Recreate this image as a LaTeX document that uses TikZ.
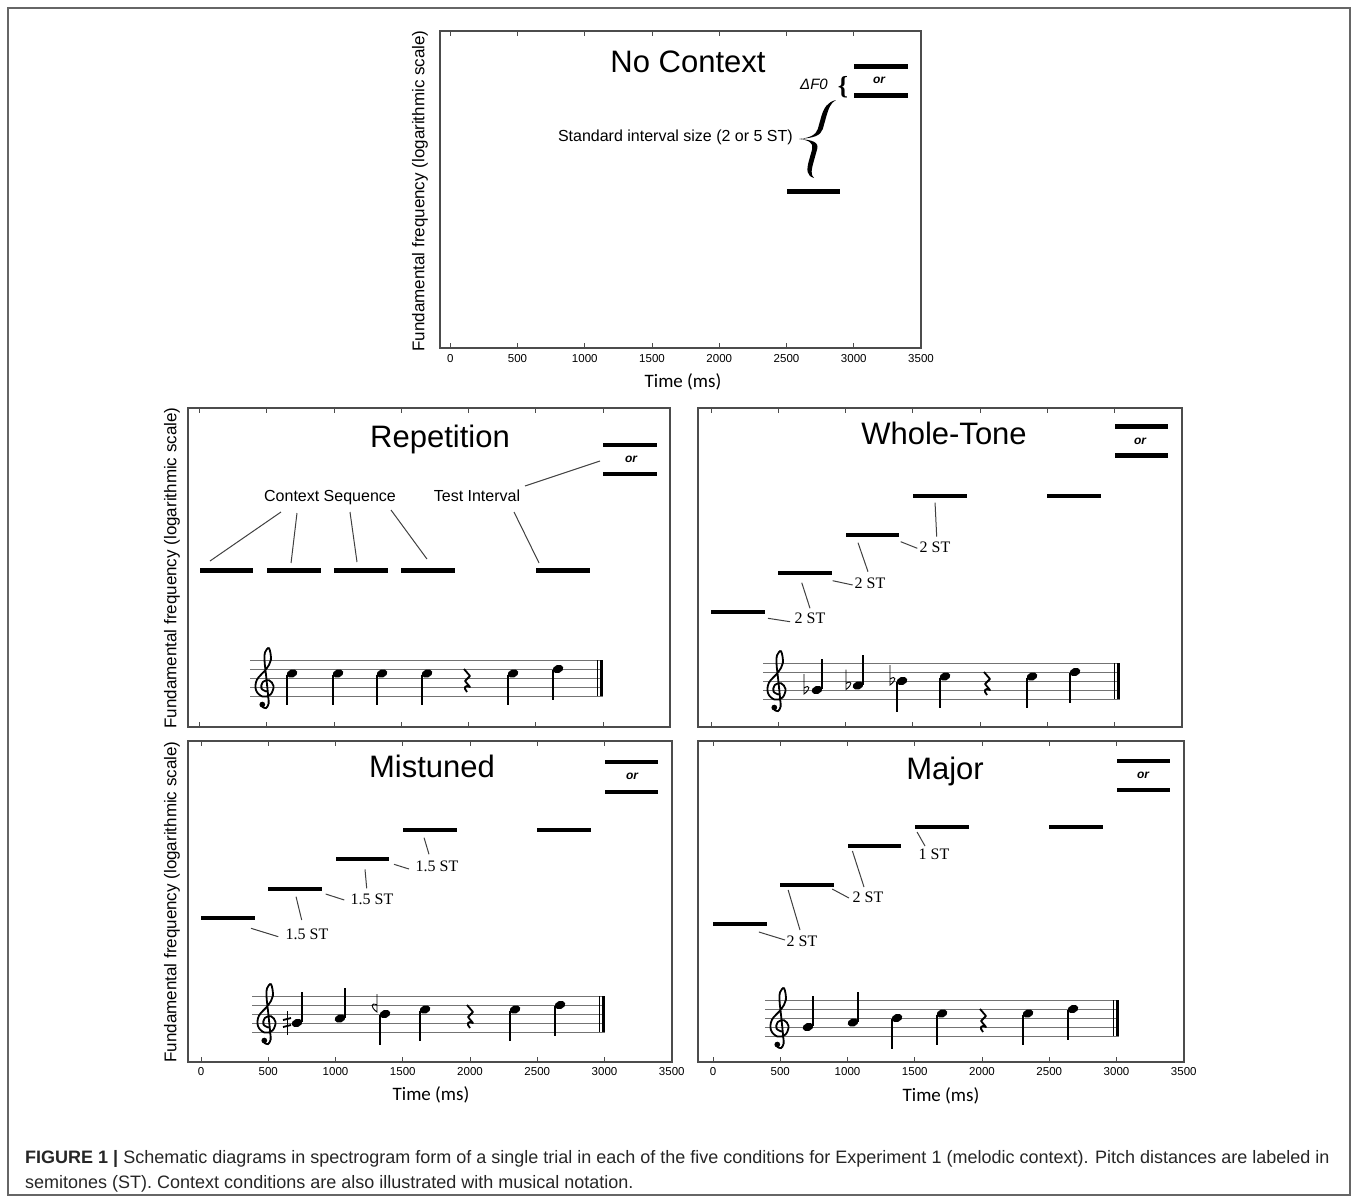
\documentclass[tikz,border=0pt]{standalone}
\usepackage{fontspec}
\setmainfont{Liberation Serif}
\setsansfont{Liberation Sans}
\newfontfamily\timefont{Carlito}
\usetikzlibrary{positioning}

% five-line staff with a final double bar: x1, x2, top line
\newcommand{\staff}[3]{%
  \foreach \k in {0,...,4}
    \draw[staffline] (#1,#3+\k*9) -- (#2,#3+\k*9);
  \draw[line width=0.9pt] (#2-6,#3) -- (#2-6,#3+36);
  \draw[line width=3pt] (#2-1.5,#3) -- (#2-1.5,#3+36);
}
% quarter notes: x, head y
\newcommand{\noteup}[2]{%
  \fill[rotate around={20:(#1,#2)}] (#1,#2) ellipse (5.5 and 4);
  \draw[stem] (#1+5,#2-1) -- (#1+5,#2-31);
}
\newcommand{\notedn}[2]{%
  \fill[rotate around={20:(#1,#2)}] (#1,#2) ellipse (5.5 and 4);
  \draw[stem] (#1-5,#2+1) -- (#1-5,#2+31);
}
% treble clef: x, G line
\newcommand{\gclef}[2]{%
  \begin{scope}[shift={(#1,#2)}, scale=9]
    \draw[line width=1.8pt, line cap=round] plot[smooth, tension=0.6] coordinates {
      (0.15,0.5) (-0.4,0.15) (-0.25,-0.55) (0.45,-0.75) (0.95,-0.1) (0.6,0.85)
      (-0.3,1.05) (-1.0,0.35) (-0.9,-0.8) (0.1,-1.95) (0.65,-3.0) (0.45,-4.3)
      (0.0,-3.85) (-0.05,-2.9) (0.15,-1.0) (0.35,1.0) (0.4,1.85) (0.1,2.35) (-0.3,2.2)};
    \fill (-0.3,1.95) circle (0.32);
  \end{scope}
}
% quarter rest: x, middle line
\newcommand{\qrest}[2]{%
  \draw[line width=1.8pt, line join=round] (#1-3,#2-9) -- (#1+3,#2-2) -- (#1-2,#2+3) -- (#1+3,#2+9)
    .. controls (#1-2,#2+6) and (#1-4,#2+10) .. (#1,#2+14);
}
% flat: x, note y
\newcommand{\flatsign}[2]{%
  \draw[line width=0.9pt] (#1,#2-16) -- (#1,#2+4) .. controls (#1+7,#2-1) and (#1+6,#2-6) .. (#1,#2-2);
}

\begin{document}
\begin{tikzpicture}[
    x=1pt, y=-1pt,
    frame/.style={draw=black!60, line width=1.5pt},
    axbox/.style={draw=black!70, line width=1.2pt},
    tick/.style={draw=black!70, line width=0.9pt},
    ticklbl/.style={font=\sffamily\fontsize{11.5}{13}\selectfont, inner sep=0pt},
    ylbl/.style={font=\sffamily\fontsize{17}{20}\selectfont, rotate=90, inner sep=0pt},
    xlbl/.style={font=\timefont\fontsize{19}{22}\selectfont, inner sep=0pt},
    ttl/.style={font=\sffamily\fontsize{31}{36}\selectfont, inner sep=0pt},
    lbl/.style={font=\sffamily\fontsize{16}{19}\selectfont, inner sep=1pt},
    st/.style={font=\rmfamily\fontsize{16}{19}\selectfont, inner sep=1pt},
    orl/.style={font=\sffamily\bfseries\itshape\fontsize{12}{14}\selectfont, inner sep=1pt},
    bar/.style={fill=black, minimum width=53.8pt, minimum height=4.5pt, inner sep=0pt},
    lead/.style={draw=black!75, line width=1pt},
    staffline/.style={draw=black!55, line width=0.8pt},
    stem/.style={line width=1.2pt},
    capt/.style={font=\sffamily\fontsize{18}{21}\selectfont, inner sep=0pt, text=black!85}
  ]
  \useasboundingbox (0,0) rectangle (1358,1199);
  \draw[frame] (8,8) rectangle (1350,1195);

  % No Context
  \draw[axbox] (440,31) rectangle (921,348);
  \foreach \t in {0,500,...,3500} {
    \draw[tick] (450.25+0.1345*\t,31) -- ++(0,5);
    \draw[tick] (450.25+0.1345*\t,348) -- ++(0,-5);
    \node[ticklbl] at (450.25+0.1345*\t,359) {\t};
  }
  \node[ylbl] (ncy) at (420,191) {Fundamental frequency (logarithmic scale)};
  \node[xlbl] (ncx) at (683,382) {Time (ms)};
  \node[ttl, anchor=base] (nct) at (688,73) {No Context};
  \node[bar] (nc1) at (813.4,191.5) {};
  \node[bar] (ncA) at (880.65,66.5) {};
  \node[bar] (ncB) at (880.65,95.5) {};
  \node[orl] (ncor) at (879,80) {or};
  \node[font=\sffamily\itshape\fontsize{15}{18}\selectfont, inner sep=0pt] (df) at (814,84) {ΔF0};
  \node[font=\rmfamily\bfseries\fontsize{26}{28}\selectfont, inner sep=0pt] (dfb) at (843,87) {\{};
  \begin{scope}[shift={(817,139)}, xslant=0.28]
    \fill (8,-39) .. controls (0,-37) and (-2,-31) .. (-2,-22) -- (-2,-10)
      .. controls (-2,-4) and (-8,-1) .. (-18,0)
      .. controls (-5,-0.8) and (3,-3) .. (3,-10) -- (3,-22)
      .. controls (3,-31) and (3.5,-36) .. (8,-39) -- cycle;
    \fill (8,39) .. controls (0,37) and (-2,31) .. (-2,22) -- (-2,10)
      .. controls (-2,4) and (-8,1) .. (-18,0)
      .. controls (-5,0.8) and (3,3) .. (3,10) -- (3,22)
      .. controls (3,31) and (3.5,36) .. (8,39) -- cycle;
  \end{scope}
  \node[lbl, anchor=east] (sit) at (794,137) {Standard interval size (2 or 5 ST)};

  % frames of the four context panels
  \draw[axbox] (188,408) rectangle (670,727);
  \draw[axbox] (698,408) rectangle (1182,727);
  \draw[axbox] (188,741) rectangle (672,1062);
  \draw[axbox] (698,741) rectangle (1184,1062);
  \foreach \xo/\yt/\yb in {199.5/408/727, 711/408/727, 201/741/1062, 713/741/1062}
    \foreach \t in {0,500,...,3500} {
      \draw[tick] (\xo+0.1345*\t,\yt) -- ++(0,5);
      \draw[tick] (\xo+0.1345*\t,\yb) -- ++(0,-5);
    }
  \foreach \xo in {201,713}
    \foreach \t in {0,500,...,3500}
      \node[ticklbl] at (\xo+0.1345*\t,1072) {\t};
  \node[ylbl] (rpy) at (172,568) {Fundamental frequency (logarithmic scale)};
  \node[ylbl] (msy) at (172,902) {Fundamental frequency (logarithmic scale)};
  \node[xlbl] (msx) at (431,1095) {Time (ms)};
  \node[xlbl] (mjx) at (941,1096) {Time (ms)};

  % Repetition
  \node[ttl, anchor=base] (rpt) at (440,447) {Repetition};
  \node[bar] (r1) at (226.4,570.5) {};
  \node[bar] (r2) at (293.65,570.5) {};
  \node[bar] (r3) at (360.9,570.5) {};
  \node[bar] (r4) at (428.15,570.5) {};
  \node[bar] (r5) at (562.65,570.5) {};
  \node[bar] (rA) at (629.9,445) {};
  \node[bar] (rB) at (629.9,474) {};
  \node[orl] (ror) at (631,459) {or};
  \node[lbl, anchor=base] (cs) at (330,501.5) {Context Sequence};
  \node[lbl, anchor=base] (ti) at (477,501.5) {Test Interval};
  \draw[lead] ([shift={(-49,10.5)}]cs.base) -- ([shift={(-16.4,-9.5)}]r1.center);
  \draw[lead] ([shift={(-33,11.5)}]cs.base) -- ([shift={(-2.6,-7.5)}]r2.center);
  \draw[lead] ([shift={(20,10.5)}]cs.base)  -- ([shift={(-3.9,-8.5)}]r3.center);
  \draw[lead] ([shift={(61,8.5)}]cs.base)   -- ([shift={(-1.2,-11.5)}]r4.center);
  \draw[lead] ([shift={(37,10.5)}]ti.base)  -- ([shift={(-23.6,-7.5)}]r5.center);
  \draw[lead] ([shift={(48,-15.5)}]ti.base) -- ([shift={(-31,2)}]ror.center);
  \staff{250}{603}{660}
  \gclef{265}{687}
  \notedn{292}{673.5} \notedn{338}{673.5} \notedn{382}{673.5} \notedn{427}{673.5}
  \qrest{467}{678}
  \notedn{513}{673.5} \notedn{558}{669}

  % Whole-Tone
  \node[ttl, anchor=base] (wtt) at (944,444) {Whole-Tone};
  \node[bar] (w1) at (737.9,612) {};
  \node[bar] (w2) at (805.15,573) {};
  \node[bar] (w3) at (872.4,535) {};
  \node[bar] (w4) at (939.65,496) {};
  \node[bar] (w5) at (1074.15,496) {};
  \node[bar] (wA) at (1141.4,426.7) {};
  \node[bar] (wB) at (1141.4,455.7) {};
  \node[orl] (wor) at (1140,441) {or};
  \node[st] (wl1) at (810,618.5) {2 ST};
  \node[st] (wl2) at (870,583) {2 ST};
  \node[st] (wl3) at (935,547.5) {2 ST};
  \draw[lead] ([shift={(30.1,6.3)}]w1.center)  -- ([shift={(-20,3.2)}]wl1.center);
  \draw[lead] ([shift={(-3.4,9.7)}]w2.center)  -- ([shift={(0,-10.2)}]wl1.center);
  \draw[lead] ([shift={(27.5,7.7)}]w2.center)  -- ([shift={(-17.3,2)}]wl2.center);
  \draw[lead] ([shift={(-14.4,7.7)}]w3.center) -- ([shift={(-2,-11.3)}]wl2.center);
  \draw[lead] ([shift={(28.3,6.7)}]w3.center)  -- ([shift={(-17.7,0.8)}]wl3.center);
  \draw[lead] ([shift={(-4.6,6.7)}]w4.center)  -- ([shift={(1.7,-10.8)}]wl3.center);
  \staff{763}{1120}{663}
  \gclef{777}{690}
  \flatsign{804}{690} \noteup{817}{690}
  \flatsign{846}{685.5} \noteup{858}{685.5}
  \flatsign{890}{681} \notedn{902}{681}
  \notedn{945}{676.5}
  \qrest{987}{681}
  \notedn{1032}{676.5} \notedn{1075}{672}

  % Mistuned
  \node[ttl, anchor=base] (mst) at (432,777) {Mistuned};
  \node[bar] (m1) at (227.9,918) {};
  \node[bar] (m2) at (295.15,889) {};
  \node[bar] (m3) at (362.4,859) {};
  \node[bar] (m4) at (429.65,830) {};
  \node[bar] (m5) at (564.15,830) {};
  \node[bar] (mA) at (631.4,762) {};
  \node[bar] (mB) at (631.4,792) {};
  \node[orl] (mor) at (632,776) {or};
  \node[st] (ml1) at (307,934) {1.5 ST};
  \node[st] (ml2) at (372,899.5) {1.5 ST};
  \node[st] (ml3) at (437,866.5) {1.5 ST};
  \draw[lead] ([shift={(23.1,10.3)}]m1.center) -- ([shift={(-28.7,2.7)}]ml1.center);
  \draw[lead] ([shift={(0.9,7.7)}]m2.center)   -- ([shift={(-5.3,-14)}]ml1.center);
  \draw[lead] ([shift={(30.5,5)}]m2.center)    -- ([shift={(-27.7,0.5)}]ml2.center);
  \draw[lead] ([shift={(2.6,10.3)}]m3.center)  -- ([shift={(-5.3,-11.2)}]ml2.center);
  \draw[lead] ([shift={(31.6,5.3)}]m3.center)  -- ([shift={(-28,2.5)}]ml3.center);
  \draw[lead] ([shift={(-5.6,7.7)}]m4.center)  -- ([shift={(-8,-12.2)}]ml3.center);
  \staff{252}{605}{996}
  \gclef{267}{1023}
  \draw[line width=1pt] (287,1011) -- (287,1035);
  \draw[line width=1.8pt] (283,1020) -- (291,1018);
  \draw[line width=1.8pt] (283,1027) -- (291,1025);
  \noteup{297}{1023} \noteup{340}{1018.5}
  \draw[line width=0.9pt] (377,994) -- (377,1012) .. controls (370,1007) and (371,1002) .. (377,1005);
  \notedn{385}{1014} \notedn{425}{1009.5}
  \qrest{470}{1014}
  \notedn{515}{1009.5} \notedn{560}{1005}

  % Major
  \node[ttl, anchor=base] (mjt) at (945,779) {Major};
  \node[bar] (j1) at (739.9,924) {};
  \node[bar] (j2) at (807.15,885) {};
  \node[bar] (j3) at (874.4,846) {};
  \node[bar] (j4) at (941.65,827) {};
  \node[bar] (j5) at (1076.15,827) {};
  \node[bar] (jA) at (1143.4,761) {};
  \node[bar] (jB) at (1143.4,790) {};
  \node[orl] (jor) at (1143,775) {or};
  \node[st] (jl1) at (802,941) {2 ST};
  \node[st] (jl2) at (868,897) {2 ST};
  \node[st] (jl3) at (934,854) {1 ST};
  \draw[lead] ([shift={(19,8)}]j1.center)    -- ([shift={(-17,-1)}]jl1.center);
  \draw[lead] ([shift={(-19,5)}]j2.center)   -- ([shift={(-2,-11)}]jl1.center);
  \draw[lead] ([shift={(25,4)}]j2.center)    -- ([shift={(-19,1)}]jl2.center);
  \draw[lead] ([shift={(-22,5)}]j3.center)   -- ([shift={(-4,-10)}]jl2.center);
  \draw[lead] ([shift={(-24.6,5)}]j4.center) -- ([shift={(-9,-8)}]jl3.center);
  \staff{765}{1119}{1000}
  \gclef{780}{1027}
  \noteup{808}{1027} \noteup{853}{1022.5}
  \notedn{897}{1018} \notedn{942}{1013.5}
  \qrest{983}{1018}
  \notedn{1028}{1013.5} \notedn{1073}{1009}

  % caption
  \node[capt, anchor=base west] (cap1) at (25,1163) {\textbf{FIGURE 1 |} Schematic diagrams in spectrogram form of a single trial in each of the five conditions for Experiment 1 (melodic context). Pitch distances are labeled in};
  \node[capt, anchor=base west] (cap2) at (25,1188) {semitones (ST). Context conditions are also illustrated with musical notation.};
\end{tikzpicture}
\end{document}
